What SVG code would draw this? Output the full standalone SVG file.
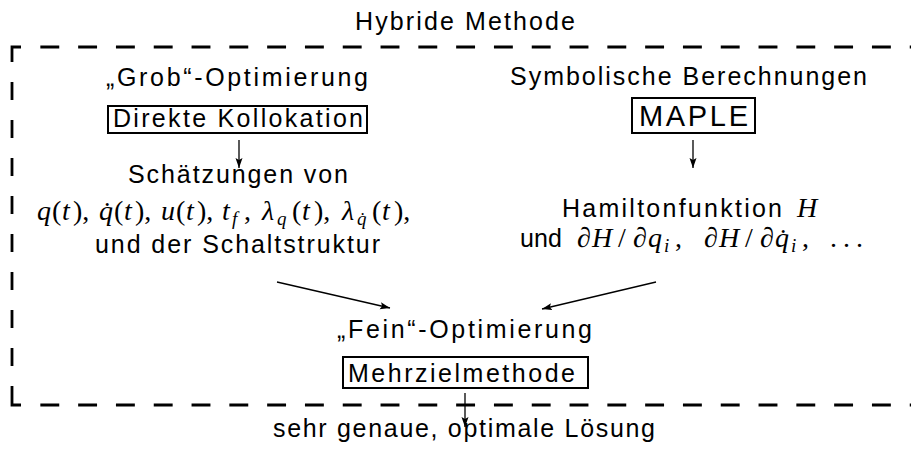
<svg xmlns="http://www.w3.org/2000/svg" width="911" height="454" viewBox="0 0 911 454">
  <style>
    .s { font-family: "Liberation Sans", Arial, sans-serif; font-size: 25px; fill: #000; }
    .big { font-size: 29px; }
    .m { font-family: "Liberation Serif", "Times New Roman", serif; font-size: 28px; fill: #000; }
    .i { font-style: italic; }
    .sub { font-size: 19px; }
    .box { fill: none; stroke: #000; stroke-width: 2; }
    .frame { fill: none; stroke: #000; stroke-width: 2.8; }
    .dash { stroke-dasharray: 18.9 18.9; }
    .arrow { fill: none; stroke: #000; stroke-width: 1.3; marker-end: url(#head); }
  </style>
  <defs>
    <marker id="head" markerUnits="userSpaceOnUse" markerWidth="11" markerHeight="8" refX="10" refY="3.5" orient="auto">
      <path d="M0,0 L10,3.5 L0,7 L2,3.5 z" fill="#000"/>
    </marker>
  </defs>

  <rect width="911" height="454" fill="#fff"/>

  <!-- title over the dashed frame -->
  <text class="s" x="355" y="30" textLength="220" lengthAdjust="spacing">Hybride Methode</text>

  <!-- dashed frame: corner pieces plus dashed runs -->
  <g id="frame" class="frame">
    <path d="M12,62 V47 H21"/>
    <path d="M12,386 V405 H21"/>
    <path class="dash" d="M40.35,47 H911"/>
    <path class="dash" d="M40.35,405 H911"/>
    <path d="M12,82 V366" stroke-dasharray="18 20"/>
  </g>

  <!-- coarse optimisation -->
  <g id="grob">
    <text class="s" x="106" y="86" textLength="262" lengthAdjust="spacing">„Grob“-Optimierung</text>
    <rect class="box" x="108" y="106" width="259" height="27"/>
    <text class="s" x="113" y="127" textLength="250" lengthAdjust="spacing">Direkte Kollokation</text>
  </g>

  <!-- symbolic computation -->
  <g id="symbolisch">
    <text class="s" x="510" y="85" textLength="357" lengthAdjust="spacing">Symbolische Berechnungen</text>
    <rect class="box" x="632" y="98" width="123" height="35"/>
    <text class="s big" x="639" y="126" textLength="109" lengthAdjust="spacing">MAPLE</text>
  </g>

  <!-- estimates from the coarse stage -->
  <g id="schaetzungen">
    <text class="s" x="128" y="183" textLength="220" lengthAdjust="spacing">Schätzungen von</text>
    <g class="m">
      <text class="i" x="37" y="220">q</text>
      <text x="52" y="220">(</text><text class="i" x="62" y="220">t</text><text x="73" y="220">),</text>

      <text class="i" x="99" y="220">q̇</text>
      <text x="114" y="220">(</text><text class="i" x="124" y="220">t</text><text x="135" y="220">),</text>

      <text class="i" x="161" y="220">u</text>
      <text x="176" y="220">(</text><text class="i" x="186" y="220">t</text><text x="197" y="220">),</text>

      <text class="i" x="222" y="220">t</text><text class="i sub" x="232" y="225">f</text><text x="244" y="220">,</text>

      <text class="i" x="262" y="220">λ</text><text class="i sub" x="277" y="225">q</text>
      <text x="292" y="220">(</text><text class="i" x="302" y="220">t</text><text x="314" y="220">),</text>

      <text class="i" x="342" y="220">λ</text><text class="i sub" x="357" y="225">q̇</text>
      <text x="372" y="220">(</text><text class="i" x="382" y="220">t</text><text x="394" y="220">),</text>
    </g>
    <text class="s" x="95" y="253" textLength="285" lengthAdjust="spacing">und der Schaltstruktur</text>
  </g>

  <!-- Hamiltonian and its derivatives -->
  <g id="hamilton">
    <text class="s" x="562" y="217" textLength="220" lengthAdjust="spacing">Hamiltonfunktion</text>
    <text class="m i" x="797" y="217">H</text>
    <text class="s" x="520" y="247" textLength="42" lengthAdjust="spacing">und</text>
    <g class="m">
      <text x="577" y="247">∂</text><text class="i" x="592" y="247">H</text><text x="618" y="247">/</text>
      <text x="633" y="247">∂</text><text class="i" x="648" y="247">q</text><text class="i sub" x="664" y="252">i</text><text x="675" y="247">,</text>

      <text x="704" y="247">∂</text><text class="i" x="719" y="247">H</text><text x="745" y="247">/</text>
      <text x="760" y="247">∂</text><text class="i" x="775" y="247">q̇</text><text class="i sub" x="791" y="252">i</text><text x="802" y="247">,</text>

      <text x="830 843 856" y="247">...</text>
    </g>
  </g>

  <!-- fine optimisation -->
  <g id="fein">
    <text class="s" x="337" y="338" textLength="255" lengthAdjust="spacing">„Fein“-Optimierung</text>
    <rect class="box" x="343" y="357" width="245" height="31"/>
    <text class="s" x="348" y="382" textLength="227" lengthAdjust="spacing">Mehrzielmethode</text>
  </g>

  <!-- result -->
  <g id="ergebnis">
    <text class="s" x="273" y="437" textLength="382" lengthAdjust="spacing">sehr genaue, optimale Lösung</text>
  </g>

  <!-- connectors -->
  <g id="connectors">
    <path class="arrow" d="M239,140 V168"/>
    <path class="arrow" d="M693,140 V168"/>
    <path class="arrow" d="M277,282 L390,308"/>
    <path class="arrow" d="M656,282 L542,309"/>
    <path class="arrow" d="M465,393 V427"/>
  </g>
</svg>
